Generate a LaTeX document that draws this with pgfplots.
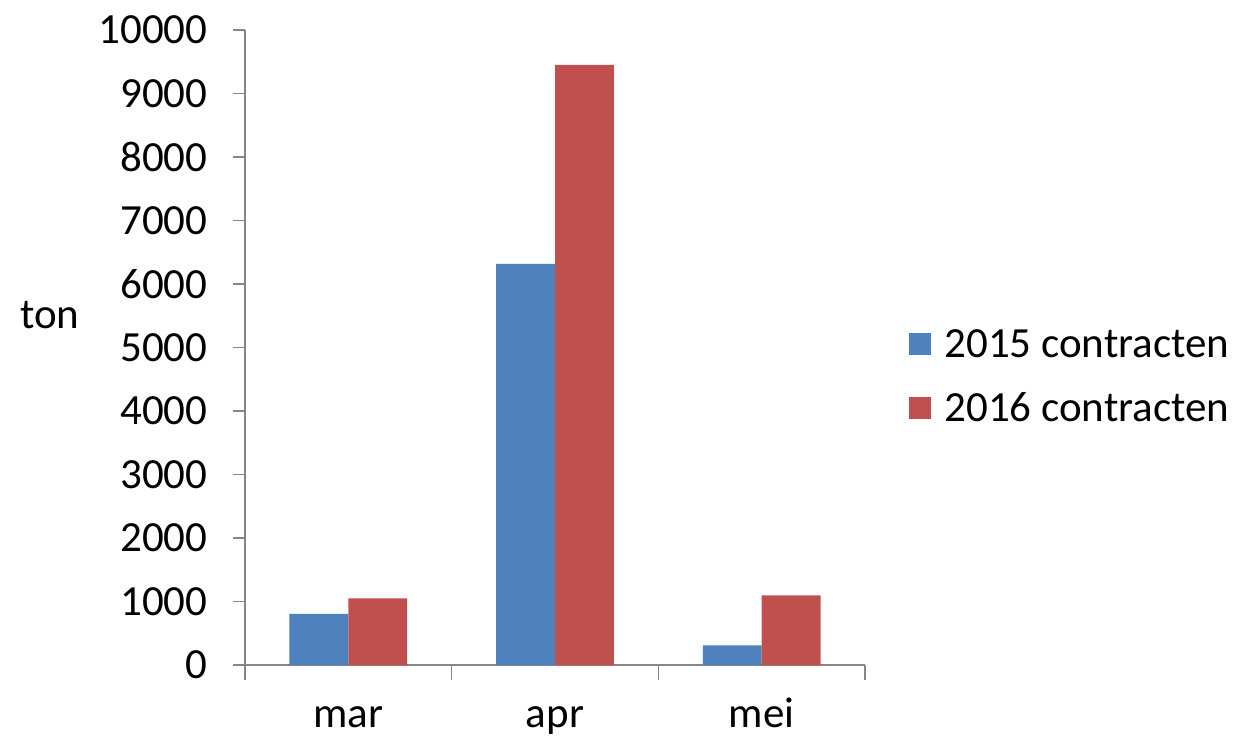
\documentclass[border=0pt]{standalone}
\usepackage{fontspec}
\setmainfont{Carlito}
\usepackage{pgfplots}
\pgfplotsset{compat=1.18}
\definecolor{blu}{HTML}{4F81BD}
\definecolor{rd}{HTML}{C0504D}
\definecolor{axg}{HTML}{868686}
\newcommand\bigf{\fontsize{43}{52}\selectfont}
\begin{document}
\begin{tikzpicture}
\path[use as bounding box] (-245pt,-75pt) rectangle (992pt,665pt);
\begin{axis}[
  scale only axis, width=620pt, height=635pt,
  ybar=0pt, bar width=0.285,
  xmin=-0.5, xmax=2.5, ymin=0, ymax=10000,
  axis x line=bottom, axis y line=left,
  axis line style={-, draw=axg, line width=1.5pt},
  xtick={0,1,2}, xticklabels={mar,apr,mei},
  minor xtick={-0.5,0.5,1.5,2.5},
  major x tick style={draw=none},
  minor tick length=15pt,
  ytick={0,1000,...,10000},
  scaled y ticks=false,
  major tick length=12pt,
  tick style={draw=axg, line width=1.5pt},
  tick align=outside,
  /pgf/number format/assume math mode=true,
  /pgf/number format/set thousands separator={},
  tick label style={font=\bigf},
  yticklabel style={xshift=-22pt},
  xticklabel style={text height=0.7em, text depth=0.2em, inner ysep=1pt, yshift=-42pt},
  ylabel={ton},
  ylabel style={font=\bigf, rotate=-90, at={(rel axis cs:-0.315,0.551)}, anchor=center},
  legend style={font=\bigf, draw=none, at={(rel axis cs:1.065,0.455)}, anchor=west,
    row sep=30pt},
  legend image code/.code={\fill[#1] (0pt,-11pt) rectangle (22pt,11pt); \path (34pt,0pt);},
]
\addplot[fill=blu, draw=none] coordinates {(0,805) (1,6315) (2,310)};
\addplot[fill=rd, draw=none] coordinates {(0,1050) (1,9450) (2,1095)};
\legend{2015 contracten, 2016 contracten}
\end{axis}
\end{tikzpicture}
\end{document}
